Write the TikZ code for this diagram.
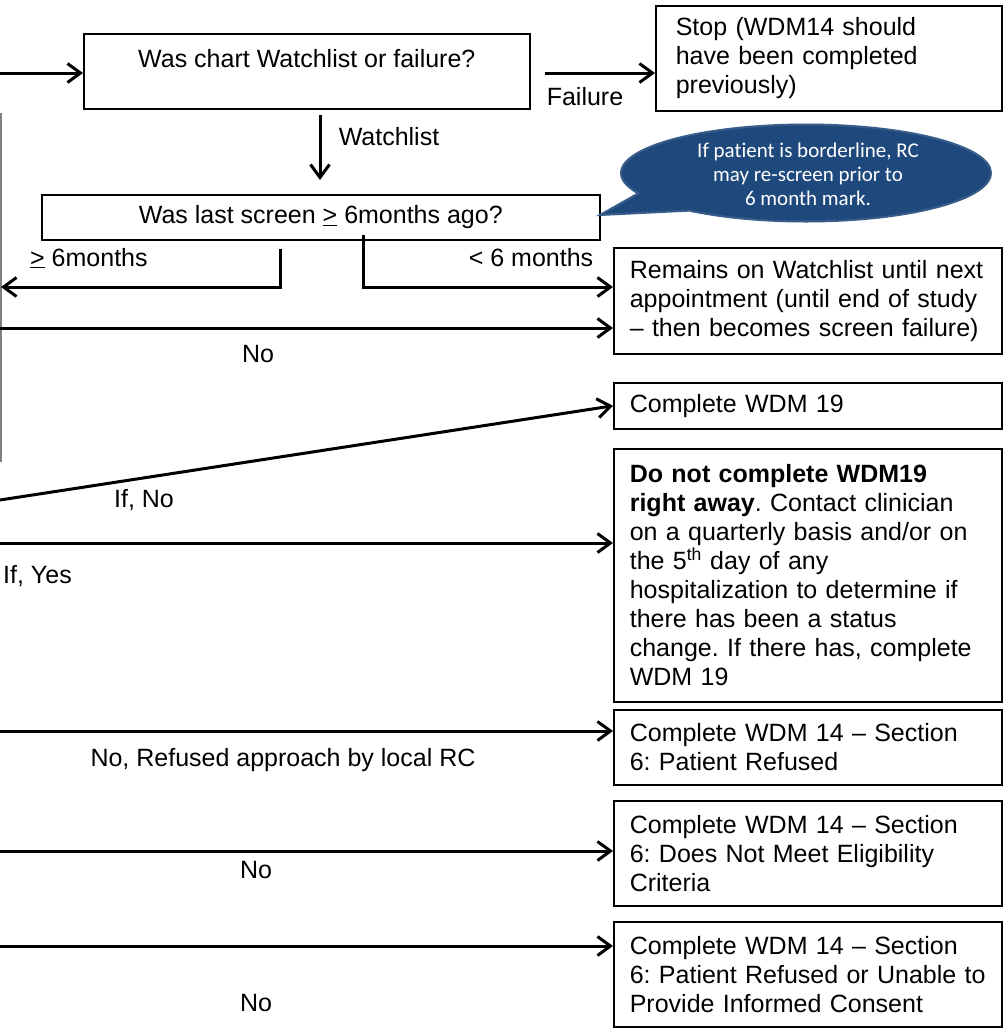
\documentclass[tikz,border=0pt]{standalone}
\usepackage{fontspec}
\setmainfont{Liberation Sans}
\newfontfamily\calloutfont[Ligatures=NoCommon]{Carlito}
\usetikzlibrary{arrows.meta,shapes.callouts,calc}
\definecolor{calloutfill}{HTML}{1F497D}
\definecolor{calloutedge}{HTML}{385D8A}
\definecolor{sideline}{HTML}{808080}
\newcommand\mainsz{\fontsize{25}{29}\selectfont}
\newcommand\notesz{\fontsize{21}{24}\selectfont}
\frenchspacing

\begin{document}
\begin{tikzpicture}[x=1pt,y=-1pt,
  box/.style={draw, line width=1.6pt, inner ysep=0pt, anchor=north west, font=\mainsz},
  outcome/.style={box, minimum width=388pt, text width=356pt, inner xsep=16pt, align=left},
  lbl/.style={font=\mainsz, inner sep=0pt},
  flow/.style={line width=3pt, -{Straight Barb[length=13pt,width=19pt]}},
  link/.style={line width=3pt}]

\fill[white] (0,0) rectangle (1004,1029);
\useasboundingbox (0,0) rectangle (1004,1029);

% decision boxes
\node[box, minimum width=446pt, minimum height=75pt, inner xsep=0pt,
      text height=34pt, text depth=41pt] (A) at (83,33) {Was chart Watchlist or failure?};
\node[box, minimum width=558pt, minimum height=45pt] (B) at (41,194)
  {Was last screen \underline{>} 6months ago?};

% outcome boxes
\node[box, minimum width=346pt, minimum height=105pt, text width=306pt, inner xsep=20pt,
      align=left] (Stop) at (655,5)
  {Stop (WDM14 should\\ have been completed\\ previously)};
\node[outcome, minimum height=106pt] (C) at (613,247)
  {Remains on Watchlist until next\\ appointment (until end of study\\ -- then becomes screen failure)};
\node[outcome, minimum height=46pt] (D) at (613,382) {Complete WDM 19};
\node[outcome, minimum height=253pt] (E) at (613,448)
  {\textbf{Do not complete WDM19}\\ \textbf{right away}. Contact clinician\\ on a quarterly basis and/or on\\
   the 5\textsuperscript{th} day of any\\ hospitalization to determine if\\ there has been a status\\
   change. If there has, complete\\ WDM 19};
\node[outcome, minimum height=75pt] (F) at (613,709)
  {Complete WDM 14 -- Section\\ 6: Patient Refused};
\node[outcome, minimum height=105pt] (G) at (613,800)
  {Complete WDM 14 -- Section\\ 6: Does Not Meet Eligibility\\ Criteria};
\node[outcome, minimum height=105pt] (H) at (613,921)
  {Complete WDM 14 -- Section\\ 6: Patient Refused or Unable to\\ Provide Informed Consent};

% callout note
\node[ellipse callout, minimum width=370pt, minimum height=97pt, fill=calloutfill,
      draw=calloutedge, line width=2pt, callout absolute pointer={(600,215)},
      callout pointer arc=26] (note) at (806,173) {};
\node[font=\calloutfont\notesz, text=white, align=center, inner sep=0pt] (notetext) at (808,174)
  {If patient is borderline, RC\\ may re-screen prior to\\ 6 month mark.};

% reference points at the left edge and bends
\coordinate (inA) at (0,73);
\coordinate (ax) at (320,0);
\coordinate (bl) at (280,0);
\coordinate (br) at (363,0);
\coordinate (bend) at (0,287);
\coordinate (outL) at (1,287);
\coordinate (inC) at (0,328);
\coordinate (inD) at (0,500);
\coordinate (inE) at (0,543);
\coordinate (inF) at (0,731);
\coordinate (inG) at (0,851);
\coordinate (inH) at (0,946);
\coordinate (g1) at (1,113);
\coordinate (g2) at (1,462);

% connectors
\draw[sideline, line width=1.5pt] (g1) -- (g2);
\draw[flow] (inA) -- (inA -| A.west);
\draw[flow] ($(inA -| A.east)+(14,0)$) -- (inA -| Stop.west);
\draw[flow] ($(A.south -| ax)+(0,5)$) -- ($(B.north -| ax)+(0,-14)$);
\draw[flow] ($(B.south -| bl)+(0,8)$) |- (outL);
\draw[flow] ($(B.south -| br)+(0,-6)$) |- (bend -| C.west);
\draw[flow] (inC) -- (inC -| C.west);
\draw[flow] (inD) -- (D.west);
\draw[flow] (inE) -- (inE -| E.west);
\draw[flow] (inF) -- (inF -| F.west);
\draw[flow] (inG) -- (inG -| G.west);
\draw[flow] (inH) -- (inH -| H.west);

% connector labels
\node[lbl] (lfail) at (585,97) {Failure};
\node[lbl] (lwatch) at (389,137) {Watchlist};
\node[lbl, anchor=west] (lge) at (30,258) {\underline{>} 6months};
\node[lbl] (llt) at (531,258) {< 6 months};
\node[lbl] (lnoC) at (258,354) {No};
\node[lbl] (lifno) at (144,500) {If, No};
\node[lbl, anchor=west] (lifyes) at (3,576) {If, Yes};
\node[lbl] (lrefused) at (283,760) {No, Refused approach by local RC};
\node[lbl] (lnoG) at (256,870) {No};
\node[lbl] (lnoH) at (256,1003) {No};
\end{tikzpicture}
\end{document}
